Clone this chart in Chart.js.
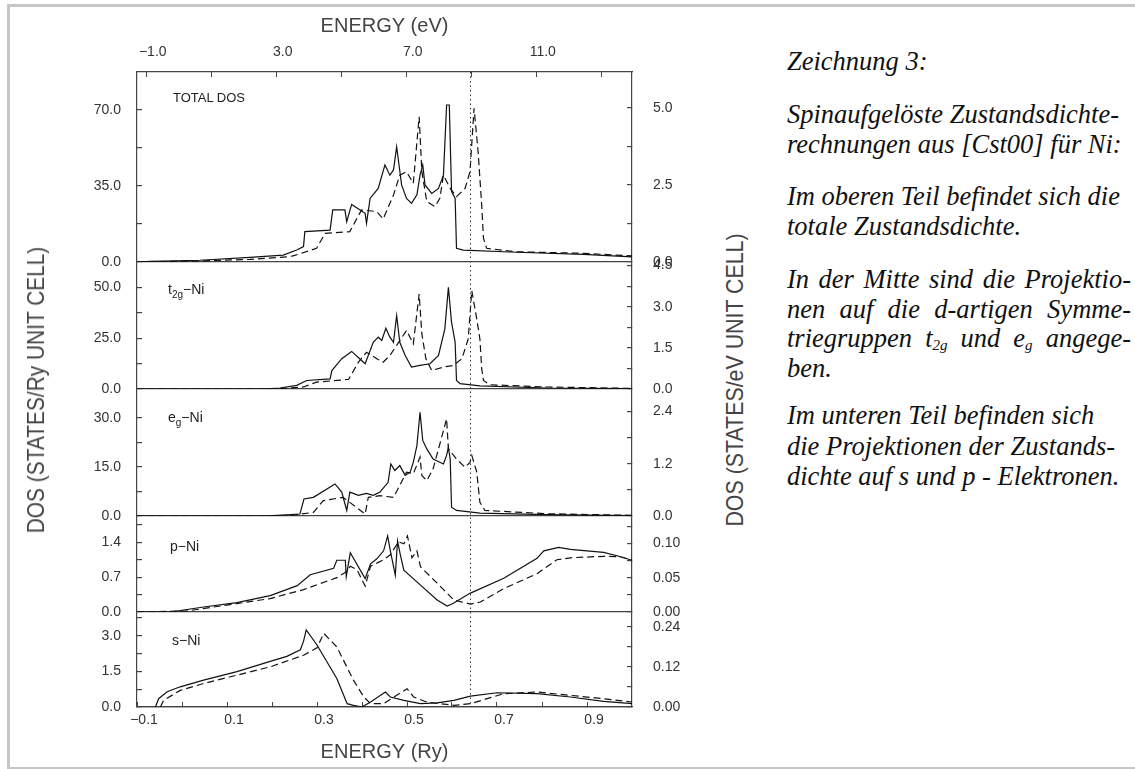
<!DOCTYPE html>
<html>
<head>
<meta charset="utf-8">
<script src="https://cdn.jsdelivr.net/npm/chart.js@4.4.1/dist/chart.umd.min.js"></script>
<style>
html, body { margin: 0; padding: 0; width: 1135px; height: 769px; overflow: hidden; background: #fff; }
.frame { position: absolute; left: 7px; top: 4px; width: 1200px; height: 760px;
  border-top: 3px solid #c6c6c6; border-left: 3px solid #c6c6c6; border-bottom: 2px solid #c6c6c6; }
#wrap { position: absolute; left: 0; top: 0; width: 720px; height: 769px; }
.lbl { position: absolute; font-family: "Liberation Sans", Arial, sans-serif; font-size: 14px; color: #222; white-space: nowrap; line-height: 14px; }
.lbl sub { font-size: 10px; vertical-align: -4px; line-height: 0; }
.ytitle { position: absolute; font-family: "Liberation Sans", Arial, sans-serif; font-size: 24px; color: #444;
  white-space: nowrap; line-height: 24px; }
.note { position: absolute; left: 787px; font-family: "Liberation Serif", "Times New Roman", serif; font-style: italic;
  font-size: 26.5px; line-height: 29.5px; color: #111; white-space: nowrap; }
.note sub { font-size: 15px; vertical-align: -3px; line-height: 0; }
.just { width: 344px; text-align: justify; text-align-last: justify; }
</style>
</head>
<body>
<div class="frame"></div>
<div id="wrap"><canvas id="dos"></canvas></div>

<div class="lbl" style="left:173px;top:91px;font-size:13px;">TOTAL DOS</div>
<div class="lbl" style="left:168px;top:282px;">t<sub>2g</sub>−Ni</div>
<div class="lbl" style="left:168px;top:410px;">e<sub>g</sub>−Ni</div>
<div class="lbl" style="left:170px;top:539px;">p−Ni</div>
<div class="lbl" style="left:172px;top:633px;">s−Ni</div>

<div class="ytitle" style="left:36px;top:390px;transform:translate(-50%,-50%) rotate(-90deg) scaleX(0.87);">DOS (STATES/Ry UNIT CELL)</div>
<div class="ytitle" style="left:735px;top:380px;transform:translate(-50%,-50%) rotate(-90deg) scaleX(0.89);">DOS (STATES/eV UNIT CELL)</div>

<div class="note" style="top:47px;">Zeichnung 3:</div>
<div class="note" style="top:100px;">Spinaufgelöste Zustandsdichte-<br>rechnungen aus [Cst00] für Ni:</div>
<div class="note" style="top:182px;">Im oberen Teil befindet sich die<br>totale Zustandsdichte.</div>
<div class="note" style="top:265px;">
  <div class="just">In der Mitte sind die Projektio-</div>
  <div class="just">nen auf die d-artigen Symme-</div>
  <div class="just">triegruppen t<sub>2g</sub> und e<sub>g</sub> angege-</div>
  <div>ben.</div>
</div>
<div class="note" style="top:400px;line-height:30.5px;">Im unteren Teil befinden sich<br>die Projektionen der Zustands-<br>dichte auf s und p - Elektronen.</div>

<script>
// energy in Ry, DOS in states/Ry; "up" = solid, "dn" = dashed
const totalUp = [[-0.1,0],[-0.07,0.3],[0.04,0.8],[0.151,2.1],[0.225,3.2],[0.255,5.5],[0.27,7.1],[0.273,14],[0.329,14.7],[0.335,24],[0.362,24],[0.366,18.6],[0.377,26.5],[0.407,22.4],[0.41,17.8],[0.418,29.3],[0.436,33.9],[0.451,44.7],[0.462,40],[0.47,42.4],[0.477,53.1],[0.488,35.5],[0.499,29.3],[0.51,27],[0.522,30.9],[0.529,40],[0.535,44.7],[0.54,35.5],[0.555,31.6],[0.57,33.9],[0.581,40],[0.588,72.3],[0.594,72.3],[0.599,32.4],[0.607,29.3],[0.61,6.3],[0.625,5.5],[0.744,4.5],[0.892,3.5],[1.0,2.4]];
const totalDn = [[-0.1,0],[0.04,0.5],[0.151,1.2],[0.233,2.4],[0.247,2.8],[0.299,6.3],[0.318,13.2],[0.373,14],[0.399,24],[0.433,23.2],[0.447,19.8],[0.47,30.9],[0.484,40],[0.499,41.6],[0.514,36.2],[0.527,66.9],[0.533,41.6],[0.544,27.8],[0.562,25.5],[0.573,29.3],[0.581,40],[0.596,33.9],[0.61,30.1],[0.629,33.9],[0.64,41.6],[0.649,70.8],[0.658,50.8],[0.666,26.2],[0.67,10.9],[0.677,6.3],[0.744,4.7],[0.892,4],[1.0,2.8]];

const t2gUp = [[-0.1,0],[0.18,0],[0.218,0.5],[0.255,1.8],[0.277,4.2],[0.329,5],[0.333,9.1],[0.355,14.9],[0.377,18.5],[0.399,14],[0.407,12.4],[0.425,23],[0.436,25.5],[0.444,23.9],[0.453,29.9],[0.462,25.5],[0.47,23],[0.477,36.1],[0.484,23],[0.496,16.5],[0.51,10.8],[0.529,11.6],[0.551,12.4],[0.57,16.5],[0.584,29.5],[0.592,50],[0.599,32.8],[0.607,23],[0.61,4.2],[0.618,2.6],[0.662,1.5],[0.81,0.5],[1.0,0.2]];
const t2gDn = [[-0.1,0],[0.2,0],[0.27,1],[0.299,3.4],[0.37,4.7],[0.392,13.2],[0.41,18.1],[0.433,14.9],[0.447,13.2],[0.462,16.5],[0.499,28.8],[0.514,22.2],[0.527,46.7],[0.533,27.1],[0.542,14.9],[0.555,9.1],[0.581,10.8],[0.603,11.6],[0.622,14.9],[0.636,24.6],[0.644,48.4],[0.655,34.4],[0.662,24.6],[0.666,10],[0.67,4.2],[0.684,2.1],[0.81,1],[1.0,0.3]];

const egUp = [[-0.1,0],[0.18,0],[0.262,0.6],[0.271,5.2],[0.292,5.7],[0.34,9.8],[0.355,7.3],[0.366,1.7],[0.373,7.3],[0.392,6.3],[0.41,6.9],[0.425,6.3],[0.44,7.3],[0.458,10.3],[0.464,15.9],[0.473,13.9],[0.484,15.4],[0.496,12.4],[0.507,13.4],[0.514,16.4],[0.522,21.5],[0.529,31.7],[0.535,23.1],[0.544,20.5],[0.558,17.4],[0.581,15.9],[0.588,18.5],[0.592,21],[0.596,17.4],[0.599,2.7],[0.61,1.7],[0.662,0.9],[0.81,0.4],[1.0,0.1]];
const egDn = [[-0.1,0],[0.23,0],[0.292,1.1],[0.314,4.7],[0.358,5.7],[0.407,0.6],[0.414,5.7],[0.44,6.2],[0.47,5.7],[0.499,13.4],[0.514,12.9],[0.529,18],[0.533,12.4],[0.544,10.8],[0.558,14.4],[0.573,22],[0.588,29.7],[0.592,20.5],[0.61,17.4],[0.629,14.9],[0.64,16.4],[0.644,18.5],[0.655,13.4],[0.662,4.2],[0.673,1.7],[0.81,0.7],[1.0,0.2]];

const pUp = [[-0.1,0],[-0.026,0],[0.048,0.1],[0.122,0.19],[0.196,0.33],[0.256,0.53],[0.285,0.75],[0.337,0.88],[0.344,1.04],[0.363,1.04],[0.365,0.71],[0.374,1.19],[0.407,0.67],[0.419,0.97],[0.433,1.07],[0.448,1.23],[0.457,1.53],[0.463,1.23],[0.474,0.74],[0.479,1.43],[0.485,1.16],[0.493,0.84],[0.53,0.54],[0.567,0.24],[0.589,0.12],[0.6,0.16],[0.641,0.38],[0.715,0.68],[0.789,1.08],[0.804,1.23],[0.837,1.3],[0.863,1.26],[0.937,1.2],[0.967,1.13],[1.0,1.04]];
const pDn = [[-0.1,0],[0.011,0.02],[0.122,0.17],[0.196,0.27],[0.27,0.45],[0.344,0.69],[0.367,0.82],[0.374,0.92],[0.389,0.85],[0.407,0.52],[0.419,0.92],[0.448,1.05],[0.463,1.15],[0.481,1.41],[0.493,1.37],[0.501,1.53],[0.511,1.09],[0.522,1.23],[0.53,0.91],[0.567,0.58],[0.604,0.24],[0.641,0.16],[0.663,0.2],[0.715,0.47],[0.789,0.77],[0.833,1.05],[0.863,1.09],[0.937,1.12],[0.974,1.11],[1.0,1.04]];

const sUp = [[-0.059,0],[-0.052,0.35],[-0.033,0.64],[-0.004,0.85],[0.048,1.13],[0.122,1.49],[0.196,1.92],[0.233,2.13],[0.263,2.41],[0.27,2.76],[0.276,3.25],[0.3,2.61],[0.344,1.2],[0.367,0.14],[0.381,0.07],[0.4,0],[0.419,0.21],[0.452,0.63],[0.463,0.42],[0.493,0.28],[0.53,0.14],[0.567,0.17],[0.604,0.28],[0.641,0.46],[0.7,0.6],[0.789,0.56],[0.863,0.42],[0.937,0.24],[1.0,0.14]];
const sDn = [[-0.048,0],[-0.041,0.28],[-0.004,0.7],[0.048,0.99],[0.122,1.34],[0.196,1.69],[0.27,2.18],[0.3,2.49],[0.315,3.1],[0.344,2.53],[0.381,1.13],[0.404,0.42],[0.419,0.14],[0.448,0.14],[0.5,0.77],[0.515,0.42],[0.544,0.21],[0.604,0.07],[0.641,0.14],[0.678,0.35],[0.715,0.56],[0.789,0.63],[0.863,0.49],[0.937,0.35],[1.0,0.21]];

const fermiLevel = 0.641;

// tick values (every other one gets a label)
const ryTicks = [-0.1, 0, 0.1, 0.2, 0.3, 0.4, 0.5, 0.6, 0.7, 0.8, 0.9];
const evTicks = [-1, 1, 3, 5, 7, 9, 11, 13];
const leftTicks = [
  [0, 17.5, 35, 52.5, 70],
  [0, 12.5, 25, 37.5, 50],
  [0, 7.5, 15, 22.5, 30],
  [0, 0.35, 0.7, 1.05, 1.4, 1.75],
  [0, 0.75, 1.5, 2.25, 3, 3.75]
];
const rightTicks = [
  [0, 1.25, 2.5, 3.75, 5],
  [0, 0.75, 1.5, 2.25, 3, 3.75, 4.5],
  [0, 0.6, 1.2, 1.8, 2.4],
  [0, 0.025, 0.05, 0.075, 0.1, 0.125],
  [0, 0.06, 0.12, 0.18, 0.24]
];
const leftMax = [87.5, 62.5, 38.8, 1.93, 4.0];
const rightMax = [6.17, 4.63, 2.92, 0.14, 0.285];
const leftDigits = [1, 1, 1, 1, 1];
const rightDigits = [1, 1, 1, 2, 2];

const series = [[totalUp, totalDn], [t2gUp, t2gDn], [egUp, egDn], [pUp, pDn], [sUp, sDn]];
const panelHeights = [190, 127, 127, 96, 95];

const ink = '#444';
const tickFont = { family: 'Liberation Sans, Arial, sans-serif', size: 14 };

function fmt(v, d) {
  const s = Math.abs(v).toFixed(d);
  return v < 0 ? '\u2212' + s : s;
}

function yAxis(i, side) {
  const right = side === 'right';
  const vals = right ? rightTicks[i] : leftTicks[i];
  const digits = right ? rightDigits[i] : leftDigits[i];
  return {
    type: 'linear',
    position: side,
    stack: side,
    stackWeight: panelHeights[i],
    weight: right ? i + 1 : 5 - i,
    min: 0,
    max: right ? rightMax[i] : leftMax[i],
    afterBuildTicks: (a) => { a.ticks = vals.map(v => ({ value: v })); },
    afterFit: (a) => { a.width = right ? 88 : 75; },
    ticks: {
      autoSkip: false,
      padding: right ? 26 : 21,
      color: '#333',
      font: tickFont,
      callback: (v, k) => k % 2 ? '' : fmt(v, digits)
    },
    grid: {
      drawOnChartArea: !right,
      drawTicks: true,
      tickLength: -5,
      tickColor: ink,
      color: (c) => (c.tick && c.tick.value === 0) ? ink : 'rgba(0,0,0,0)',
      lineWidth: 1.2
    },
    border: { display: true, color: ink, width: 1.2 }
  };
}

const scales = {
  x: {
    type: 'linear',
    position: 'bottom',
    min: -0.1,
    max: 1.0,
    afterBuildTicks: (a) => { a.ticks = ryTicks.map(v => ({ value: v })); },
    afterFit: (a) => { a.height = 62; },
    ticks: { autoSkip: false, maxRotation: 0, padding: 10, labelOffset: 7, color: '#333', font: tickFont,
      callback: (v, k) => k % 2 ? '' : fmt(v, 1) },
    grid: { drawOnChartArea: false, tickLength: -5, tickColor: ink },
    border: { display: true, color: ink, width: 1.2 },
    title: { display: true, text: 'ENERGY (Ry)', color: '#444',
      font: { family: 'Liberation Sans, Arial, sans-serif', size: 20 }, padding: { top: 0, bottom: 5 } }
  },
  x2: {
    type: 'linear',
    position: 'top',
    min: -1.3,
    max: 13.93,
    afterBuildTicks: (a) => { a.ticks = evTicks.map(v => ({ value: v })); },
    afterFit: (a) => { a.height = 72; },
    ticks: { autoSkip: false, maxRotation: 0, padding: 16, labelOffset: 6, color: '#333', font: tickFont,
      callback: (v, k) => k % 2 ? '' : fmt(v, 1) },
    grid: { drawOnChartArea: false, tickLength: -5, tickColor: ink },
    border: { display: true, color: ink, width: 1.2 },
    title: { display: true, text: 'ENERGY (eV)', color: '#444',
      font: { family: 'Liberation Sans, Arial, sans-serif', size: 20 }, padding: { top: 14, bottom: 0 } }
  }
};
for (let i = 0; i < 5; i++) {
  scales['yl' + i] = yAxis(i, 'left');
  scales['yr' + i] = yAxis(i, 'right');
}

const datasets = [];
series.forEach((pair, i) => {
  pair.forEach((pts, j) => {
    datasets.push({
      data: pts.map(p => ({ x: p[0], y: p[1] })),
      xAxisID: 'x',
      yAxisID: 'yl' + i,
      borderColor: '#111',
      borderWidth: 1.2,
      borderDash: j ? [7, 4] : [],
      pointRadius: 0,
      fill: false,
      tension: 0
    });
  });
});

const fermiLine = {
  id: 'fermiLine',
  afterDatasetsDraw(chart) {
    const { ctx, chartArea } = chart;
    const x = Math.round(chart.scales.x.getPixelForValue(fermiLevel)) + 0.5;
    ctx.save();
    ctx.strokeStyle = '#333';
    ctx.lineWidth = 1;
    ctx.setLineDash([1.5, 3]);
    ctx.beginPath();
    ctx.moveTo(x, chartArea.top);
    ctx.lineTo(x, chartArea.bottom);
    ctx.stroke();
    ctx.restore();
  }
};

new Chart(document.getElementById('dos'), {
  type: 'line',
  data: { datasets: datasets },
  options: {
    responsive: true,
    maintainAspectRatio: false,
    animation: false,
    layout: { padding: { left: 62, right: 0, top: 0, bottom: 0 } },
    plugins: { legend: { display: false }, tooltip: { enabled: false } },
    scales: scales
  },
  plugins: [fermiLine]
});
</script>
</body>
</html>
